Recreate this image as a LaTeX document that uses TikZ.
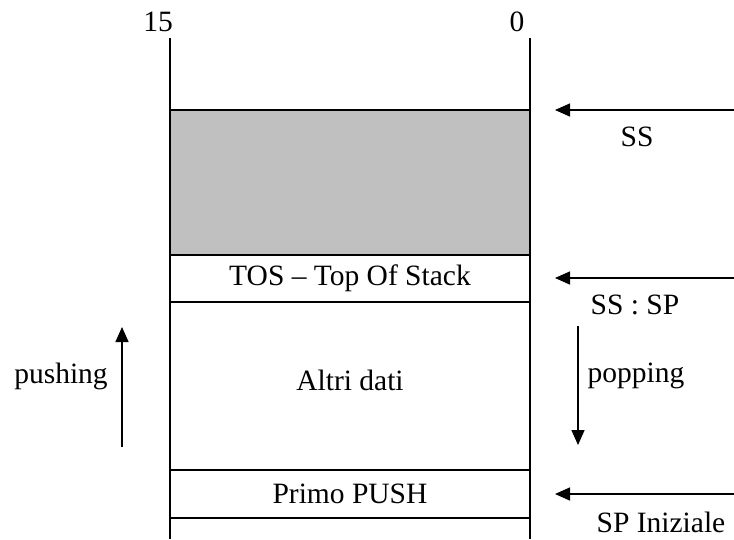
\documentclass[tikz,border=0pt]{standalone}
\usepackage{fontspec}
\setmainfont{Liberation Serif}
\usetikzlibrary{arrows.meta, positioning}
\definecolor{stackgray}{HTML}{C0C0C0}

\begin{document}
\begin{tikzpicture}[
            x=1pt, y=-1pt,
            every node/.style={font=\fontsize{29.5}{34}\selectfont, inner sep=0pt, outer sep=0pt},
            wall/.style={line width=1.5pt},
            cell/.style={draw, line width=1.5pt, minimum width=360pt, anchor=north},
            pointer/.style={line width=1.5pt, -{Triangle[length=15pt, width=13pt]}}
        ]

            \useasboundingbox (0,0) rectangle (734,539);

            % stack cells
            \node[cell, fill=stackgray, minimum height=145pt] (used) at (350,110) {};
            \node[cell, minimum height=47pt, below=0pt of used] (tos) {TOS -- Top Of Stack};
            \node[cell, minimum height=168pt, below=0pt of tos] (altri) {};
            \node[cell, minimum height=48pt, below=0pt of altri] (primo) {Primo PUSH};
            \node[yshift=6pt] (altriText) at (altri.center) {Altri dati};

            \coordinate (wallLtop) at (170,38);
            \coordinate (wallLbot) at (170,539);
            \coordinate (wallRtop) at (530,38);
            \coordinate (wallRbot) at (530,539);
            \draw[wall] (wallLtop) -- (wallLbot);
            \draw[wall] (wallRtop) -- (wallRbot);

            \node (bit15) at (158,22) {15};
            \node (bit0) at (517,22) {0};

            % pointers
            \coordinate (ssFrom) at (734,110);
            \coordinate (ssTo) at (555,110);
            \coordinate (spFrom) at (734,278);
            \coordinate (spTo) at (555,278);
            \coordinate (iniFrom) at (734,494);
            \coordinate (iniTo) at (555,494);
            \draw[pointer] (ssFrom) -- (ssTo);
            \draw[pointer] (spFrom) -- (spTo);
            \draw[pointer] (iniFrom) -- (iniTo);

            \node (ss) at (637,137) {SS};
            \node (sssp) at (635,305) {SS : SP};
            \node (spini) at (661,522) {SP Iniziale};

            % directions
            \coordinate (popStart) at (578,326);
            \coordinate (popEnd) at (578,445);
            \coordinate (pushStart) at (122,447);
            \coordinate (pushEnd) at (122,327);
            \draw[pointer] (popStart) -- (popEnd);
            \draw[pointer] (pushStart) -- (pushEnd);

            \node (popping) at (636,376) {popping};
            \node (pushing) at (61,376) {pushing};

        \end{tikzpicture}
\end{document}
